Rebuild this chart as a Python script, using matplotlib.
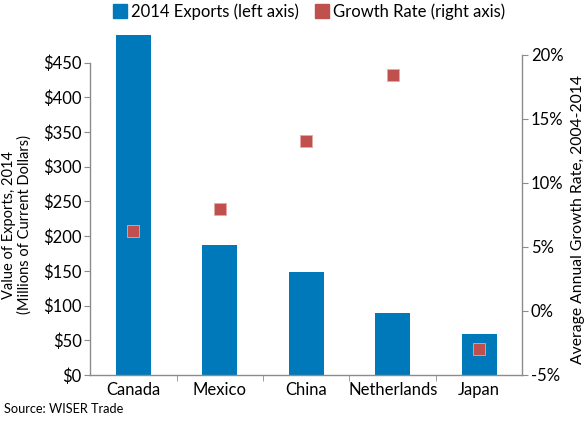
import matplotlib
matplotlib.use("Agg")
import matplotlib.pyplot as plt
import numpy as np

# ======== 数据 ========
countries = ["Canada", "Mexico", "China", "Netherlands", "Japan"]
exports_2014 = [490, 187, 148, 89, 59]          # millions of current dollars
growth_rate = [6.25, 8.0, 13.3, 18.4, -3.0]     # % per year, 2004-2014

BLUE = "#0079BA"
RED = "#C0504D"
GREY = "#8C8C8C"

plt.rcParams["font.family"] = ["Lato", "DejaVu Sans"]

fig = plt.figure(figsize=(5.86, 4.22), dpi=100)
ax = fig.add_axes([0.1536, 0.1114, 0.7380, 0.8176])
ax2 = ax.twinx()

x = np.arange(len(countries))
ax.bar(x, exports_2014, width=0.4, color=BLUE, zorder=2)
ax2.plot(x, growth_rate, linestyle="none", marker="s", markersize=8.5,
         color=RED, markeredgecolor="#E8A8A6", markeredgewidth=0.6, zorder=3)

# ======== 左轴 ========
ax.set_xlim(-0.5, 4.5)
ax.set_ylim(0, 497)
ax.set_yticks(np.arange(0, 451, 50))
ax.set_yticklabels([f"${v}" for v in range(0, 451, 50)], fontsize=12)
ax.spines["left"].set_bounds(0, 450)
ax.set_ylabel("Value of Exports, 2014\n(Millions of Current Dollars)", fontsize=10.5,
              linespacing=1.1)
ax.yaxis.set_label_coords(-0.135, 0.435)

# x 轴：分隔刻度在类别之间，标签在中心
ax.set_xticks(x)
ax.set_xticklabels(countries, fontsize=12)
ax.tick_params(axis="x", which="major", length=0, pad=5)
ax.set_xticks(np.arange(0.5, 4.5, 1), minor=True)
ax.tick_params(axis="x", which="minor", length=4, color=GREY, direction="out")
ax.tick_params(axis="y", length=4, color=GREY, direction="out", pad=2)

# ======== 右轴 ========
ax2.set_ylim(-5, 21.95)
ax2.set_yticks(np.arange(-5, 21, 5))
ax2.set_yticklabels([f"{v}%" for v in range(-5, 21, 5)], fontsize=12)
ax2.spines["right"].set_bounds(-5, 20)
ax2.tick_params(axis="y", length=4, color=GREY, direction="out", pad=2)
ax2.set_ylabel("Average Annual Growth Rate, 2004-2014", fontsize=11.3, rotation=90)
ax2.yaxis.set_label_coords(1.113, 0.45)

for a in (ax, ax2):
    a.spines["top"].set_visible(False)
    for s in ("left", "right", "bottom"):
        a.spines[s].set_color(GREY)
        a.spines[s].set_linewidth(1.0)
ax.spines["right"].set_visible(False)
ax2.spines["left"].set_visible(False)
ax2.spines["bottom"].set_visible(False)

# ======== 图例 ========
handles = [
    plt.Line2D([], [], linestyle="none", marker="s", markersize=9.5, color=BLUE),
    plt.Line2D([], [], linestyle="none", marker="s", markersize=9.5, color=RED),
]
fig.legend(handles, ["2014 Exports (left axis)", "Growth Rate (right axis)"],
           loc="center", bbox_to_anchor=(0.526, 0.972), ncol=2, frameon=False,
           fontsize=12, handletextpad=0.15, columnspacing=0.9, handlelength=1.0)

fig.text(0.007, 0.022, "Source: WISER Trade", fontsize=9.2)

fig.savefig("out.png", dpi=100)
